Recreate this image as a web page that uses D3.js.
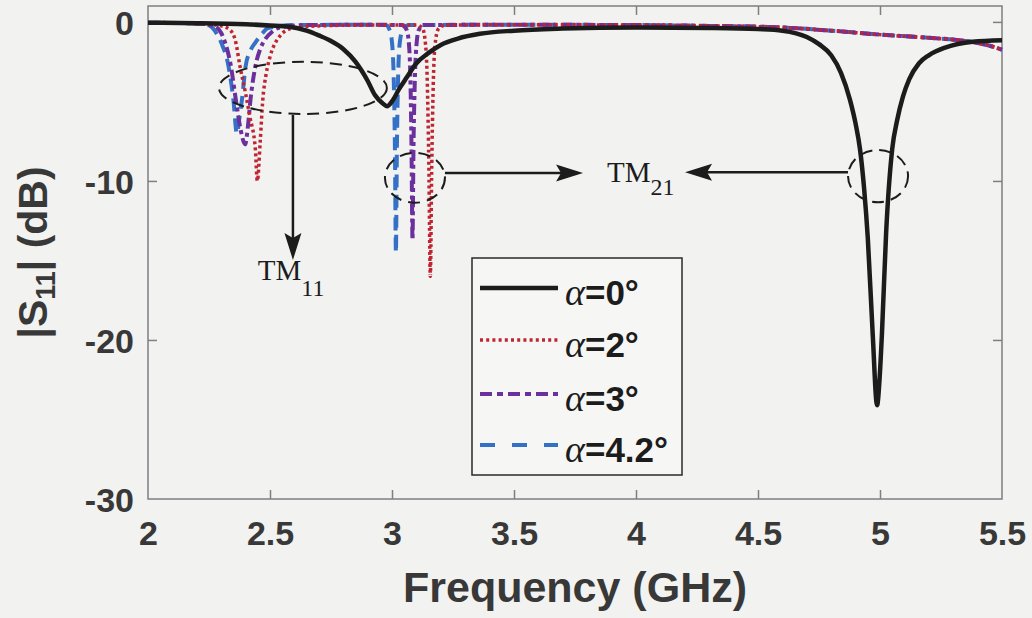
<!DOCTYPE html>
<html>
<head>
<meta charset="utf-8">
<script src="https://cdn.jsdelivr.net/npm/d3@7"></script>
<style>
  body { margin: 0; background: #f2f2f0; }
  svg { display: block; }
</style>
</head>
<body>
<div class="vis-s11"></div>
<script>
// tick values
const xTicks = [2, 2.5, 3, 3.5, 4, 4.5, 5, 5.5];
const yTicks = [0, -10, -20, -30];

// legend angles
const angles = ["0", "2", "3", "4.2"];

// |S11| (dB) vs frequency (GHz)
const alpha0 = [[2.0,-0.05],[2.2,-0.08],[2.4,-0.15],[2.5,-0.22],[2.58,-0.3],[2.65,-0.55],[2.7,-0.85],[2.75,-1.2],[2.8,-1.7],[2.85,-2.5],
  [2.9,-3.7],[2.93,-4.6],[2.96,-5.1],[2.98,-5.3],[3.0,-5.0],[3.03,-4.2],[3.06,-3.5],[3.1,-2.6],[3.15,-1.95],[3.2,-1.45],[3.27,-1.05],
  [3.36,-0.75],[3.5,-0.55],[3.7,-0.42],[4.0,-0.35],[4.3,-0.38],[4.5,-0.45],[4.6,-0.55],[4.7,-0.95],[4.75,-1.4],[4.8,-2.1],[4.84,-3.2],
  [4.877,-4.9],[4.9,-6.4],[4.918,-8],[4.935,-10.5],[4.95,-13.6],[4.97,-19.6],[4.988,-24.1],[4.998,-22.5],[5.008,-19.6],[5.025,-13.3],
  [5.05,-8],[5.07,-6.2],[5.094,-4.7],[5.12,-3.6],[5.16,-2.6],[5.2,-2.1],[5.27,-1.6],[5.38,-1.25],[5.5,-1.15]];

const alpha2 = [[2.0,-0.05],[2.2,-0.1],[2.3,-0.25],[2.336,-0.5],[2.36,-1.3],[2.377,-2.8],[2.4,-4.5],[2.418,-6],[2.44,-8],[2.448,-10],
  [2.46,-7.5],[2.47,-5],[2.485,-3.2],[2.5,-2.2],[2.54,-0.9],[2.59,-0.4],[2.7,-0.25],[2.9,-0.2],[3.1,-0.2],[3.125,-0.4],[3.138,-1.5],
  [3.145,-4],[3.151,-9],[3.157,-16],[3.163,-9],[3.169,-4],[3.176,-1.5],[3.19,-0.45],[3.22,-0.2],[3.5,-0.18],[4.0,-0.2],[4.3,-0.25],
  [4.6,-0.35],[4.8,-0.55],[5.0,-0.8],[5.2,-1.0],[5.35,-1.2],[5.45,-1.5],[5.5,-1.75]];

const alpha3 = [[2.0,-0.05],[2.2,-0.1],[2.27,-0.25],[2.3,-0.7],[2.316,-1.3],[2.34,-2.8],[2.36,-4.9],[2.38,-6.8],[2.398,-7.7],[2.41,-6.5],
  [2.42,-4.9],[2.44,-2.8],[2.46,-1.7],[2.48,-1.1],[2.51,-0.6],[2.54,-0.35],[2.65,-0.2],[2.9,-0.18],[3.04,-0.2],[3.06,-0.5],[3.07,-1.5],
  [3.076,-4],[3.08,-8],[3.084,-13.7],[3.088,-8],[3.093,-4],[3.1,-1.5],[3.11,-0.5],[3.13,-0.2],[3.5,-0.18],[4.0,-0.2],[4.3,-0.25],
  [4.6,-0.35],[4.8,-0.55],[5.0,-0.8],[5.2,-1.0],[5.35,-1.2],[5.45,-1.5],[5.5,-1.75]];

const alpha42 = [[2.0,-0.05],[2.2,-0.1],[2.254,-0.25],[2.28,-0.7],[2.3,-1.3],[2.33,-2.8],[2.35,-4.9],[2.364,-7],[2.375,-6],[2.385,-4.9],
  [2.4,-2.8],[2.42,-1.8],[2.44,-1.3],[2.47,-0.7],[2.49,-0.4],[2.6,-0.2],[2.9,-0.18],[2.975,-0.2],[2.99,-0.5],[3.0,-1.3],[3.007,-3.5],
  [3.012,-8],[3.016,-14.5],[3.02,-8],[3.025,-3.5],[3.032,-1.3],[3.045,-0.45],[3.07,-0.2],[3.5,-0.18],[4.0,-0.2],[4.3,-0.25],
  [4.6,-0.35],[4.8,-0.55],[5.0,-0.8],[5.2,-1.0],[5.35,-1.2],[5.45,-1.5],[5.5,-1.75]];

// annotations, in data units
const ellipses = [
  { f: 2.635, db: -4.15, rf: 0.344, rdb: 1.64 },
  { f: 3.094, db: -9.8, rf: 0.123, rdb: 1.57 },
  { f: 4.992, db: -9.7, rf: 0.123, rdb: 1.64 }
];
const arrows = [
  { f1: 2.594, db1: -5.85, f2: 2.594, db2: -14.97 },
  { f1: 3.217, db1: -9.5, f2: 3.783, db2: -9.5 },
  { f1: 4.869, db1: -9.45, f2: 4.201, db2: -9.45 }
];
const modeLabels = [
  { f: 2.45, db: -16.2, main: "TM", sub: "11", dy: 16 },
  { f: 3.881, db: -10.06, main: "TM", sub: "21", dy: 13 }
];

const W = 1032, H = 618;
const margin = { top: 6, right: 30, bottom: 119, left: 148 };
const width = W - margin.left - margin.right;
const height = H - margin.top - margin.bottom;

const svgRoot = d3.select(".vis-s11").append("svg")
  .attr("width", W).attr("height", H);
svgRoot.append("rect").attr("width", W).attr("height", H).attr("fill", "#f2f2f0");

const svg = svgRoot.append("g")
  .attr("transform", "translate(" + margin.left + "," + margin.top + ")");

const x = d3.scaleLinear().domain([2, 5.5]).range([0, width]);
const y = d3.scaleLinear().domain([-30, 1]).range([height, 0]);

const tickFont = "'Liberation Sans', Arial, sans-serif";
const textColor = "#383838";
const plain = function(d) { return String(d); };   // keeps the ascii hyphen

// axes (ticks inward, on all four sides)
const tl = 9;
const xb = svg.append("g").attr("transform", "translate(0," + height + ")")
  .call(d3.axisBottom(x).tickValues(xTicks).tickSizeInner(-tl).tickSizeOuter(0).tickPadding(22).tickFormat(plain));
const xt = svg.append("g")
  .call(d3.axisTop(x).tickValues(xTicks).tickSizeInner(-tl).tickSizeOuter(0).tickFormat(""));
const yl = svg.append("g")
  .call(d3.axisLeft(y).tickValues(yTicks).tickSizeInner(-tl).tickSizeOuter(0).tickPadding(14).tickFormat(plain));
const yr = svg.append("g").attr("transform", "translate(" + width + ",0)")
  .call(d3.axisRight(y).tickValues(yTicks).tickSizeInner(-tl).tickSizeOuter(0).tickFormat(""));

[xb, xt, yl, yr].forEach(function(g) {
  g.select(".domain").remove();
  g.selectAll(".tick line").attr("stroke", "#7c7f84").attr("stroke-width", 1.5);
  g.selectAll(".tick text").attr("fill", textColor)
    .style("font-family", tickFont).style("font-size", "34px").style("font-weight", "bold");
});
xb.selectAll(".tick text").attr("dy", "0.71em");
yl.selectAll(".tick text").attr("dy", "0.36em");
// hide ticks that sit on the frame corners
xb.selectAll(".tick line").filter(function(d) { return d === 2 || d === 5.5; }).remove();
xt.selectAll(".tick line").filter(function(d) { return d === 2 || d === 5.5; }).remove();
yl.selectAll(".tick line").filter(function(d) { return d === -30; }).remove();
yr.selectAll(".tick line").filter(function(d) { return d === -30; }).remove();

svg.append("rect")
  .attr("width", width).attr("height", height)
  .attr("fill", "none").attr("stroke", "#7c7f84").attr("stroke-width", 1.5);

// curves
const line = d3.line()
  .x(function(d) { return x(d[0]); })
  .y(function(d) { return y(d[1]); })
  .curve(d3.curveMonotoneX);

const styles = [
  { data: alpha0, color: "#1c1c1c", w: 4.5, dash: null, legDash: null },
  { data: alpha2, color: "#bf2430", w: 3.5, dash: "3,3", legDash: "3,3.2" },
  { data: alpha3, color: "#6b2f9e", w: 4, dash: "11,4,4,4", legDash: "12,5,6,5" },
  { data: alpha42, color: "#3470c6", w: 4, dash: "13,7", legDash: "15,17" }
];

// draw from last to first so black ends on top
styles.slice().reverse().forEach(function(s) {
  svg.append("path")
    .datum(s.data)
    .attr("d", line)
    .attr("fill", "none")
    .attr("stroke", s.color)
    .attr("stroke-width", s.w)
    .attr("stroke-linejoin", "round")
    .attr("stroke-dasharray", s.dash);
});

// annotation ellipses
svg.append("g").selectAll("ellipse")
  .data(ellipses)
  .enter()
  .append("ellipse")
    .attr("cx", function(d) { return x(d.f); })
    .attr("cy", function(d) { return y(d.db); })
    .attr("rx", function(d) { return x(d.f + d.rf) - x(d.f); })
    .attr("ry", function(d) { return y(d.db - d.rdb) - y(d.db); })
    .attr("fill", "none")
    .attr("stroke", "#1c1c1c")
    .attr("stroke-width", 2)
    .attr("stroke-dasharray", "12,7");

// arrows
const headLen = 27, headHalf = 8.5, notch = 5;
arrows.forEach(function(a) {
  const x1 = x(a.f1), y1 = y(a.db1), x2 = x(a.f2), y2 = y(a.db2);
  const ang = Math.atan2(y2 - y1, x2 - x1);
  const ux = Math.cos(ang), uy = Math.sin(ang);
  const bx = x2 - ux * headLen, by = y2 - uy * headLen;
  svg.append("line")
    .attr("x1", x1).attr("y1", y1)
    .attr("x2", bx + ux * notch).attr("y2", by + uy * notch)
    .attr("stroke", "#1c1c1c").attr("stroke-width", 2.5);
  const px = -uy, py = ux;
  const pts = [
    [x2, y2],
    [bx + px * headHalf, by + py * headHalf],
    [bx + ux * notch, by + uy * notch],
    [bx - px * headHalf, by - py * headHalf]
  ];
  svg.append("path")
    .attr("d", "M" + pts.map(function(p) { return p[0] + "," + p[1]; }).join("L") + "Z")
    .attr("fill", "#1c1c1c");
});

// mode labels
modeLabels.forEach(function(m) {
  const t = svg.append("text")
    .attr("x", x(m.f)).attr("y", y(m.db))
    .attr("fill", "#1c1c1c")
    .style("font-family", "'Liberation Serif', 'Times New Roman', serif")
    .style("font-size", "29px");
  t.append("tspan").text(m.main);
  t.append("tspan").attr("dy", m.dy).style("font-size", "24px").text(m.sub);
});

// legend
const leg = svg.append("g").attr("transform", "translate(" + (472 - margin.left) + "," + (258 - margin.top) + ")");
leg.append("rect")
  .attr("width", 210).attr("height", 217)
  .attr("fill", "#f6f6f4").attr("stroke", "#2a2a2a").attr("stroke-width", 1.5);
const rowY = [30, 82, 136, 187];
styles.forEach(function(s, i) {
  leg.append("line")
    .attr("x1", 8).attr("x2", 86)
    .attr("y1", rowY[i]).attr("y2", rowY[i])
    .attr("stroke", s.color).attr("stroke-width", s.w)
    .attr("stroke-dasharray", s.legDash);
  const t = leg.append("text")
    .attr("x", 93).attr("y", rowY[i] + 17)
    .attr("fill", "#1c1c1c");
  t.append("tspan")
    .style("font-family", "'Liberation Serif', 'Times New Roman', serif")
    .style("font-style", "italic").style("font-size", "38px")
    .text("α");
  t.append("tspan")
    .style("font-family", tickFont).style("font-weight", "bold").style("font-size", "35px")
    .text("=" + angles[i] + "°");
});

// axis titles
svg.append("text")
  .attr("x", width / 2).attr("y", height + 103)
  .attr("text-anchor", "middle")
  .attr("fill", textColor)
  .style("font-family", tickFont).style("font-weight", "bold").style("font-size", "43px")
  .text("Frequency (GHz)");

const yt = svg.append("text")
  .attr("transform", "translate(" + (47 - margin.left) + "," + (height / 2) + ") rotate(-90)")
  .attr("text-anchor", "middle")
  .attr("fill", textColor)
  .style("font-family", tickFont).style("font-weight", "bold").style("font-size", "41px");
yt.append("tspan").text("|S");
yt.append("tspan").attr("dy", 8).style("font-size", "27px").text("11");
yt.append("tspan").attr("dy", -8).text("| (dB)");
</script>
</body>
</html>
